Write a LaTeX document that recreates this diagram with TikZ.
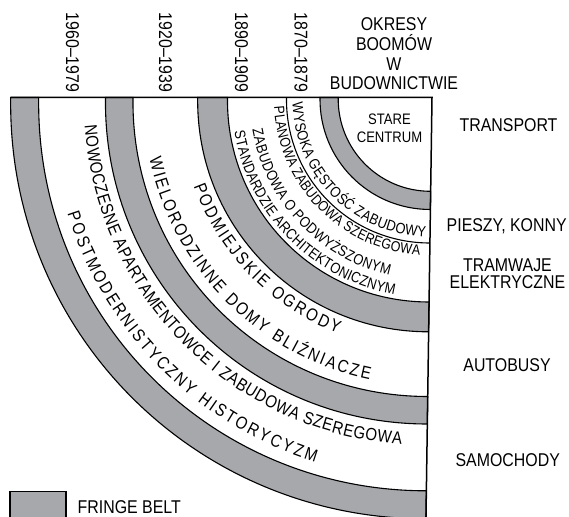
\documentclass[tikz,border=0pt]{standalone}
\usepackage{fontspec}
\setmainfont{Liberation Sans}[FakeStretch=0.86]
\definecolor{fb}{RGB}{166,168,171}
\newcommand\lblsize{\fontsize{18.5}{19.8}\selectfont}
\newcommand\arcbig{\fontsize{17.5}{18}\selectfont}
\newcommand\arcsml{\fontsize{15}{16}\selectfont}
\newcommand\arcxs{\fontsize{14.5}{16}\selectfont}
\newcommand\fbring[2]{%
  \filldraw[ringstyle] (180:#2) arc[start angle=180,end angle=270,radius=#2]
    -- (270:#1) arc[start angle=270,end angle=180,radius=#1] -- cycle;}
\newcommand\placechar[5]{\node[arcchar,font=#5,rotate=#3] at (#1,#2) {#4};}
\newcommand\measurechar[2]{\pgfinterruptpicture\global\setbox1=\hbox{#1#2}\endpgfinterruptpicture}
\ExplSyntaxOn
\dim_new:N \l__arc_w_dim
\dim_new:N \l__arc_s_dim
\dim_new:N \l__arc_c_dim
\int_new:N \l__arc_n_int
\fp_new:N \l__arc_gap_fp
\fp_new:N \l__arc_ang_fp
\NewDocumentCommand \arclabel { m m m m m }
  {
    \group_begin:
    \dim_zero:N \l__arc_w_dim
    \int_zero:N \l__arc_n_int
    \str_map_inline:nn {#2}
      {
        \measurechar {#1} {##1}
        \dim_add:Nn \l__arc_w_dim { \wd 1 }
        \int_incr:N \l__arc_n_int
      }
    \fp_set:Nn \l__arc_gap_fp
      { ( #5 * ( #4 - #3 ) * pi / 180 - \dim_to_fp:n { \l__arc_w_dim } ) / ( \l__arc_n_int - 1 ) }
    \dim_zero:N \l__arc_s_dim
    \str_map_inline:nn {#2}
      {
        \measurechar {#1} {##1}
        \dim_set:Nn \l__arc_c_dim { \wd 1 }
        \fp_set:Nn \l__arc_ang_fp
          { #3 + ( \dim_to_fp:n { \l__arc_s_dim } + \dim_to_fp:n { \l__arc_c_dim } / 2 ) / #5 * 180 / pi }
        \use:x
          {
            \exp_not:N \placechar
              { \fp_eval:n { #5 * cosd ( \l__arc_ang_fp ) } }
              { \fp_eval:n { #5 * sind ( \l__arc_ang_fp ) } }
              { \fp_eval:n { \l__arc_ang_fp + 90 } }
              { \exp_not:n {##1} }
              { \exp_not:n {#1} }
          }
        \dim_add:Nn \l__arc_s_dim { \l__arc_c_dim + \fp_to_dim:N \l__arc_gap_fp }
      }
    \group_end:
  }
\ExplSyntaxOff
\begin{document}
\begin{tikzpicture}[x=1pt,y=1pt,
  ringstyle/.style={fill=fb,draw=black,line width=1.1pt},
  frameline/.style={draw=black,line width=1.5pt},
  arcchar/.style={inner sep=0pt,anchor=base},
  lbl/.style={font=\lblsize,inner sep=0pt}]
\useasboundingbox (0,0) rectangle (569,516);
\clip (0,0) rectangle (569,516);

\begin{scope}[shift={(432,418.5)},xslant=0.01435]
  \fbring{393.3}{421.3}
  \fbring{299}{326.5}
  \fbring{204.5}{234.3}
  \fbring{93.8}{112}
  \draw[line width=1.1pt] (180:145.5) arc[start angle=180,end angle=270,radius=145.5];
  \draw[frameline] (-421.3,0) -- (0,0) -- (0,-440);
  % arc texts: font, text, start angle, end angle, baseline radius
  \arclabel{\arcsml}{WYSOKA GĘSTOŚĆ ZABUDOWY}{182.2}{268.2}{139.5}
  \arclabel{\arcxs}{PLANOWA ZABUDOWA SZEREGOWA}{183.4}{266.4}{158}
  \arclabel{\arcsml}{ZABUDOWA O PODWYŻSZONYM}{190.1}{257.3}{182}
  \arclabel{\arcsml}{STANDARDZIE ARCHITEKTONICZNYM}{189.9}{260}{200}
  \arclabel{\arcbig}{PODMIEJSKIE OGRODY}{200.5}{249}{253}
  \arclabel{\arcbig}{WIELORODZINNE DOMY BLIŹNIACZE}{192.2}{258.3}{288}
  \arclabel{\arcbig}{NOWOCZESNE APARTAMENTOWCE I ZABUDOWA SZEREGOWA}{184.6}{265.8}{348}
  \arclabel{\arcbig}{POSTMODERNISTYCZNY HISTORYCYZM}{197.8}{253}{381}
\end{scope}

% year labels
\node[lbl,rotate=-90] (y1960) at (72.5,463.5) {1960–1979};
\node[lbl,rotate=-90] (y1920) at (165.5,463.5) {1920–1939};
\node[lbl,rotate=-90] (y1890) at (241.5,463.5) {1890–1909};
\node[lbl,rotate=-90] (y1870) at (301,463.5) {1870–1879};

\node[lbl,align=center,anchor=north] (okresy) at (394,498.7)
  {OKRESY\\BOOMÓW\\W\\BUDOWNICTWIE};
\node[font=\fontsize{15.2}{18}\selectfont,inner sep=0pt,align=center,anchor=north]
  (stare) at (389.5,402.7) {STARE\\CENTRUM};

% transport labels
\node[lbl,anchor=base] (transport) at (508.5,384.3) {TRANSPORT};
\node[lbl,anchor=base] (pieszy) at (506.7,284.7) {PIESZY, KONNY};
\node[font=\fontsize{18.5}{17}\selectfont,inner sep=0pt,align=center,anchor=north]
  (tramwaje) at (507.5,257.7) {TRAMWAJE\\ELEKTRYCZNE};
\node[lbl,anchor=base] (autobusy) at (507,144.5) {AUTOBUSY};
\node[lbl,anchor=base] (samochody) at (507.7,49.5) {SAMOCHODY};

% legend
\filldraw[fill=fb,draw=black,line width=1.1pt] (10,24.3) rectangle (66,-5);
\node[lbl,anchor=base west] (fringe) at (77.5,2.7) {FRINGE BELT};
\end{tikzpicture}
\end{document}
